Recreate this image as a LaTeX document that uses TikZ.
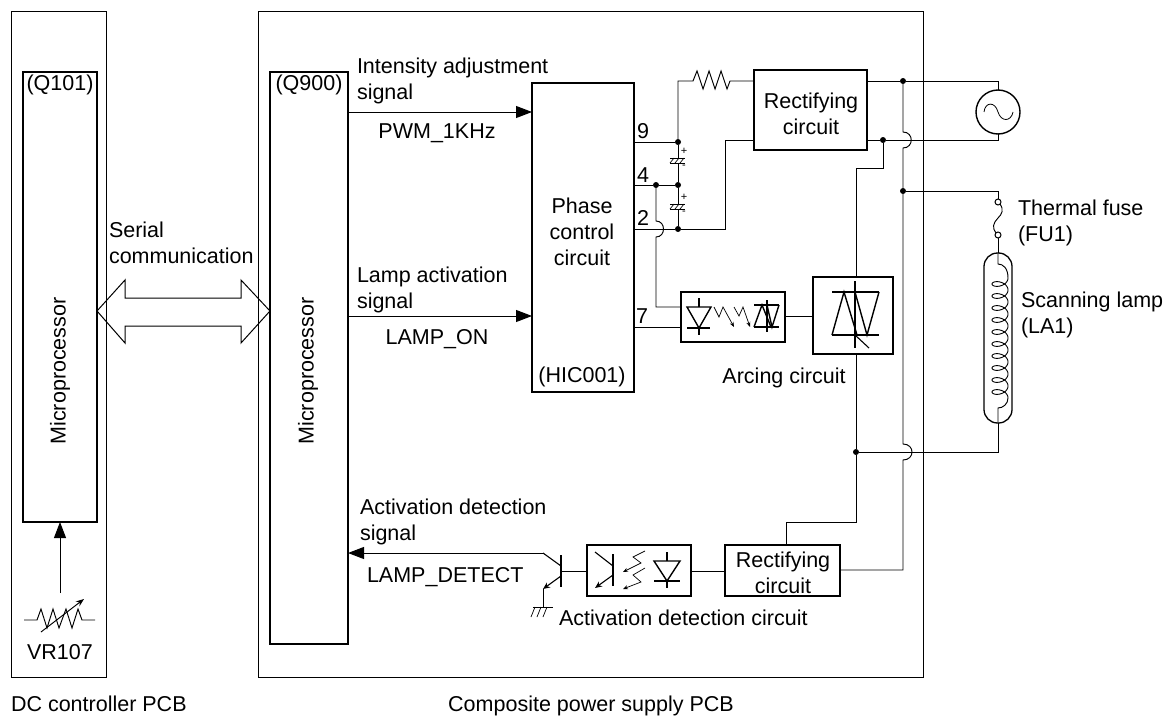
\documentclass[tikz,border=0pt]{standalone}
\usepackage{fontspec}
\setmainfont{Liberation Sans}
\usetikzlibrary{arrows.meta,calc}
\tikzset{
  every node/.style={inner sep=0pt,outer sep=0pt},
  wire/.style={line width=0.95pt,line join=miter},
  thick box/.style={draw,line width=1.5pt,rectangle},
  board/.style={draw,line width=1pt,rectangle},
  txt/.style={font=\fontsize{21.5}{26}\selectfont,align=left,anchor=west},
  btxt/.style={font=\fontsize{21.5}{26}\selectfont,anchor=base west},
  ctxt/.style={font=\fontsize{21.5}{26}\selectfont,align=center},
  cbtxt/.style={font=\fontsize{21.5}{26}\selectfont,anchor=base},
  pm/.style={font=\fontsize{11}{11}\selectfont},
  dot/.style={circle,fill=black,minimum size=6pt},
  bigarrow/.style={-{Triangle[length=16pt,width=12pt]},wire},
  smallarrow/.style={-{Stealth[length=5pt,width=4pt]},line width=0.7pt},
  sym/.style={line width=1.1pt,line join=miter},
  symthick/.style={line width=1.4pt,line join=miter},
}
\begin{document}
\begin{tikzpicture}[x=1pt,y=-1pt]
\useasboundingbox (0,0) rectangle (1170,717);
% boards and blocks
\node[board,minimum width=95pt,minimum height=665pt] (dcpcb) at (58.5,344.5) {};
\node[board,minimum width=665pt,minimum height=665pt] (pspcb) at (590.5,344.5) {};
\node[thick box,minimum width=74pt,minimum height=450pt] (q101) at (60,297) {};
\node[thick box,minimum width=78pt,minimum height=572pt] (q900) at (309,358) {};
\node[thick box,minimum width=102pt,minimum height=309pt] (phase) at (583,237.5) {};
\node[thick box,minimum width=113pt,minimum height=80pt] (rect1) at (810.5,110) {};
\node[thick box,minimum width=115pt,minimum height=51pt] (rect2) at (782.5,570.5) {};
\node[thick box,minimum width=104pt,minimum height=50pt] (opto1) at (733,317) {};
\node[thick box,minimum width=80pt,minimum height=77pt] (triac) at (853,315.5) {};
\node[thick box,minimum width=104pt,minimum height=51pt] (opto2) at (639,570.5) {};
\node[draw,line width=1.4pt,circle,minimum size=44pt] (src) at (998,112) {};
\node[draw,line width=1.3pt,rectangle,rounded corners=13.5pt,minimum width=28pt,minimum height=170pt] (lamp) at (998,338) {};
\node[draw,line width=1pt,circle,minimum size=6pt] (fuse1) at (998,202) {};
\node[draw,line width=1pt,circle,minimum size=6pt] (fuse2) at (998,235) {};
% texts
\node[cbtxt] (tq101) at (60,90) {(Q101)};
\node[cbtxt] (tq900) at (309,90) {(Q900)};
\node[ctxt,rotate=90] (tm1) at (60,371) {Microprocessor};
\node[ctxt,rotate=90] (tm2) at (308,371) {Microprocessor};
\node[cbtxt] (tvr) at (60,659) {VR107};
\node[txt] (tserial) at (109,243) {Serial\\communication};
\node[txt] (tint) at (357,81) {Intensity adjustment\\signal};
\node[cbtxt] (tpwm) at (437,138) {PWM\_1KHz};
\node[txt] (tlamp) at (357,290) {Lamp activation\\signal};
\node[cbtxt] (tlon) at (437,344) {LAMP\_ON};
\node[txt] (tact) at (360,522) {Activation detection\\signal};
\node[btxt] (tdet) at (367,582) {LAMP\_DETECT};
\node[ctxt] (tphase) at (582,232) {Phase\\control\\circuit};
\node[cbtxt] (thic) at (582,382) {(HIC001)};
\node[btxt] (p9) at (637,138) {9};
\node[btxt] (p4) at (637,182) {4};
\node[btxt] (p2) at (637,225) {2};
\node[btxt] (p7) at (636,323) {7};
\node[ctxt] (trect1) at (811,114) {Rectifying\\circuit};
\node[ctxt] (trect2) at (783,573) {Rectifying\\circuit};
\node[cbtxt] (tarc) at (784,383) {Arcing circuit};
\node[btxt] (tadc) at (559,625) {Activation detection circuit};
\node[txt] (tfuse) at (1018,223) {Thermal fuse\\(FU1)};
\node[txt] (tsl) at (1021,315) {Scanning lamp\\(LA1)};
\node[btxt] (tdcp) at (11,711) {DC controller PCB};
\node[cbtxt] (tcps) at (591,711) {Composite power supply PCB};
\node[pm] (cp1) at (684,151) {+};
\node[pm] (cm1) at (684,167) {-};
\node[pm] (cp2) at (684,197) {+};
\node[pm] (cm2) at (684,213) {-};
% junctions
\node[dot] (j9) at (678,142) {};
\node[dot] (j4a) at (656,185) {};
\node[dot] (j4b) at (678,185) {};
\node[dot] (j2) at (678,229) {};
\node[dot] (jt) at (903,81) {};
\node[dot] (jr) at (883,140) {};
\node[dot] (jf) at (903,191) {};
\node[dot] (jb) at (856,452) {};
% hollow double arrow
\draw[line width=1pt,line join=miter] (q101.east |- 0,311) coordinate (dl) -- (125,280) -- (125,298) -- (241,298) -- (241,280) -- (q900.west |- 0,311) coordinate (dr) -- (241,343) -- (241,326) -- (125,326) -- (125,343) -- cycle;
% signal arrows
\draw[bigarrow] (q900.east |- 0,112) -- (phase.west |- 0,112);
\draw[bigarrow] (q900.east |- 0,316) -- (phase.west |- 0,316);
\coordinate (tc) at (543,553);
\draw[bigarrow] (tc) -- (q900.east |- tc);
\coordinate (vrarrow) at (60,593);
\draw[bigarrow] (vrarrow) -- (q101.south -| vrarrow);
% phase pins
\draw[wire] (phase.east |- j9) -- (j9);
\draw[wire] (phase.east |- j4a) -- (j4a) -- (j4b);
\draw[wire] (phase.east |- j2) -- (j2);
\draw[wire] (phase.east |- 0,327) -- (opto1.west |- 0,327);
% resistor and top wiring
\coordinate (r1a) at (693,81); \coordinate (r1b) at (730,81);
\draw[wire] (j9) -- (678,81) -- (r1a) -- (697,71) -- (703,89) -- (709,71) -- (715,89) -- (721,71) -- (727,89) -- (r1b) -- (rect1.west |- r1b);
\draw[wire] (rect1.west |- jr) -- (725,140) -- (725,229) -- (j2);
\draw[wire] (rect1.east |- jt) -- (jt) -- (998,81) -- (src.north);
\draw[wire] (rect1.east |- jr) -- (jr) -- (998,140) -- (src.south);
% capacitors
\draw[wire] (j9) -- (678,158);
\draw[wire] (678,163) -- (j4b);
\draw[wire] (j4b) -- (678,204);
\draw[wire] (678,209) -- (j2);
\foreach \cy in {160.5,206.5}{
  \draw[line width=0.8pt] (670,\cy-2.5) -- (685,\cy-2.5) (670,\cy+2.5) -- (685,\cy+2.5);
  \draw[line width=0.7pt] (670,\cy+2.5) -- (674,\cy-2.5) (675,\cy+2.5) -- (679,\cy-2.5) (680,\cy+2.5) -- (684,\cy-2.5);
}
% pin 4 line with hop
\draw[wire] (j4a) -- (656,221) .. controls (666,221) and (666,237) .. (656,237) -- (656,307) -- (opto1.west |- 0,307);
% main verticals
\draw[wire] (jt) -- (903,132) .. controls (914,132) and (914,148) .. (903,148) -- (jf) -- (903,444) .. controls (915,444) and (915,460) .. (903,460) -- (903,570) -- (rect2.east |- 0,570);
\draw[wire] (jf) -- (998,191) -- (fuse1.north);
\draw[wire] (jr) -- (883,168) -- (856,168) -- (triac.north -| 856,0);
\draw[wire] (triac.south -| 856,0) -- (jb);
\draw[wire] (jb) -- (998,452) -- (lamp.south);
\draw[wire] (jb) -- (856,522) -- (786,522) -- (rect2.north -| 786,0);
% fuse
\draw[wire] (fuse1.south east) .. controls (1004,210) and (1002,214) .. (998,218) .. controls (993,223) and (992,228) .. (fuse2.north west);
\draw[wire] (fuse2.south) -- (lamp.north);
% lamp coil
\draw[wire] (lamp.north) -- (998,264) .. controls (1003,264) and (1008,268) .. (1008,278);
\draw[line width=0.9pt] plot[domain=0:3600,samples=361] ({1000+8*cos(\x)},{278+\x/360*12+5*sin(\x)});
\draw[wire] (1008,398) .. controls (1008,404) and (1003,408) .. (998,408) -- (lamp.south);
% source wave
\draw[line width=0.8pt] (984,112) .. controls (985,102) and (995,101) .. (998,112) .. controls (1001,122) and (1011,122) .. (1013,112);
% VR107
\coordinate (vra) at (24,620); \coordinate (vrb) at (95,620);
\draw[wire] (vra) -- (37,620) -- (41,609) -- (47,628) -- (53,609) -- (59,628) -- (66,609) -- (72,628) -- (78,609) -- (82,620) -- (vrb);
\draw[wire,-{Stealth[length=8pt,width=6pt]}] (41,632) -- (84,599);
% opto 1 symbols
\draw[symthick] (687,307) -- (711,307) -- (699,328) -- cycle;
\draw[symthick] (687,328) -- (710,328);
\draw[symthick] (699,298) -- (699,307) (699,328) -- (699,335);
\draw[smallarrow] (714,307) -- (719,317) -- (723,307) -- (734,327);
\draw[smallarrow] (734,307) -- (739,316) -- (743,307) -- (750,327);
\draw[symthick] (754,305) -- (779,305) (754,327) -- (779,327);
\draw[sym] (767,300) -- (767,332);
\draw[symthick] (754,327) -- (762,305) -- (771,327);
\draw[symthick] (767,305) -- (772,327) -- (779,305);
% link opto1 triac
\draw[wire] (opto1.east |- 0,316) -- (triac.west |- 0,316);
% triac symbol
\draw[symthick] (832,292) -- (879,292) (832,335) -- (879,335);
\draw[symthick] (832,335) -- (844,292) -- (857,335);
\draw[symthick] (855,292) -- (867,335) -- (879,292);
\draw[sym] (855,281) -- (855,348);
\draw[sym] (855,335) -- (869,348);
% opto2 symbols
\draw[symthick] (613,554) -- (613,586);
\draw[sym] (595,552) -- (613,566);
\draw[sym,-{Stealth[length=7pt,width=6pt]}] (613,575) -- (595,588);
\draw[smallarrow] (645,551) -- (633,557) -- (641,563) -- (623,572);
\draw[smallarrow] (645,568) -- (633,575) -- (641,582) -- (623,589);
\draw[symthick] (654,561) -- (680,561) -- (667,581) -- cycle;
\draw[symthick] (654,581) -- (680,581);
\draw[symthick] (667,552) -- (667,561) (667,581) -- (667,588);
% links opto2
\draw[wire] (rect2.west |- 0,571) -- (opto2.east |- 0,571);
% outer transistor
\draw[sym] (561,555) -- (561,587);
\draw[wire] (561,571) -- (opto2.west |- 0,571);
\draw[sym] (tc) -- (561,566);
\draw[sym,-{Stealth[length=7pt,width=6pt]}] (561,576) -- (543,589);
\draw[wire] (543,589) -- (543,607);
\draw[wire] (533,607) -- (553,607);
\draw[line width=0.7pt] (535,607) -- (531,617) (541,607) -- (537,617) (547,607) -- (543,617);
\end{tikzpicture}
\end{document}
